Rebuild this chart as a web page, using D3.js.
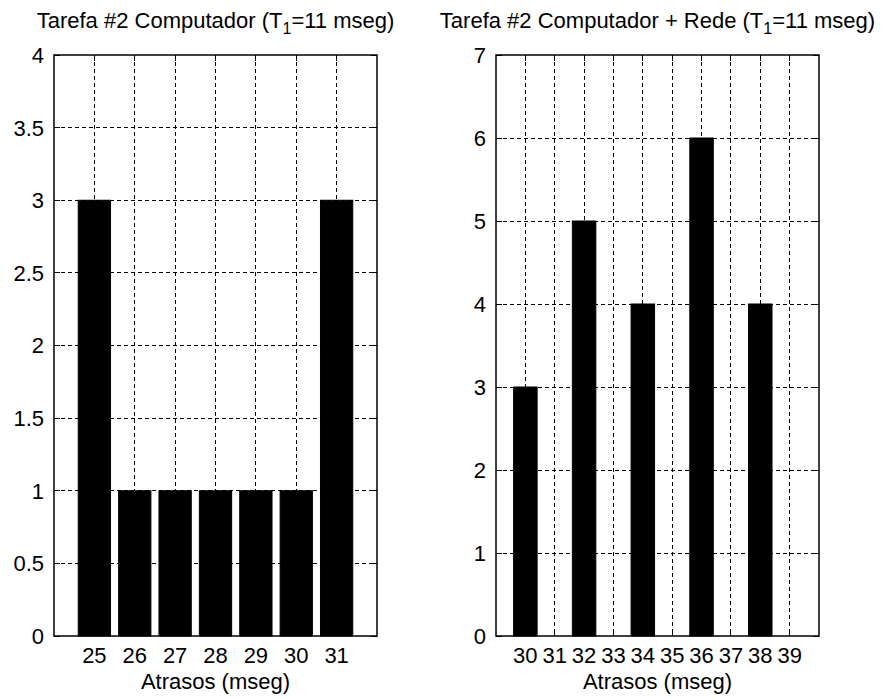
<!DOCTYPE html>
<html>
<head>
<meta charset="utf-8">
<script src="https://cdn.jsdelivr.net/npm/d3@7"></script>
<style>
  body { margin: 0; background: #fff; }
  svg { display: block; font-family: "Liberation Sans", Arial, sans-serif; }
</style>
</head>
<body>
<svg id="chart" width="884" height="699"></svg>
<script>
// Histograms of delays
const delaysComp = [25, 26, 27, 28, 29, 30, 31];
const countsComp = [3, 1, 1, 1, 1, 1, 3];
const yTicksComp = [0, 0.5, 1, 1.5, 2, 2.5, 3, 3.5, 4];

const delaysNet = [30, 31, 32, 33, 34, 35, 36, 37, 38, 39];
const countsNet = [3, 0, 5, 0, 4, 0, 6, 0, 4, 0];
const yTicksNet = [0, 1, 2, 3, 4, 5, 6, 7];

const titleComp = "Tarefa #2 Computador";
const titleNet = "Tarefa #2 Computador + Rede";
const xLabel = "Atrasos (mseg)";

const svg = d3.select("#chart");
const plotTop = 55, plotBottom = 636;
const fontSize = 22;

function drawPanel(opts) {
    const { left, right, xs, ys, xDomain, yDomain, yTicks, title } = opts;

    const x = d3.scaleLinear().domain(xDomain).range([left, right]);
    const y = d3.scaleLinear().domain(yDomain).range([plotBottom, plotTop]);
    const g = svg.append("g");

    // grid (dotted, behind the bars)
    g.append("g")
        .selectAll("line")
        .data(xs)
        .join("line")
        .attr("x1", d => x(d)).attr("x2", d => x(d))
        .attr("y1", plotTop).attr("y2", plotBottom)
        .attr("stroke", "#000")
        .attr("stroke-dasharray", "4,3")
        .attr("shape-rendering", "crispEdges");

    g.append("g")
        .selectAll("line")
        .data(yTicks.slice(1, -1))
        .join("line")
        .attr("x1", left).attr("x2", right)
        .attr("y1", d => y(d)).attr("y2", d => y(d))
        .attr("stroke", "#000")
        .attr("stroke-dasharray", "4,3")
        .attr("shape-rendering", "crispEdges");

    // bars (width 0.8, like MATLAB's bar)
    const bw = 0.8;
    g.append("g")
        .selectAll("rect")
        .data(xs.map((d, i) => ({ x: d, v: ys[i] })).filter(d => d.v > 0))
        .join("rect")
        .attr("x", d => x(d.x - bw / 2))
        .attr("width", d => x(d.x + bw / 2) - x(d.x - bw / 2))
        .attr("y", d => y(d.v))
        .attr("height", d => y(0) - y(d.v))
        .attr("fill", "#000")
        .attr("stroke", "#000")
        .attr("stroke-width", 1);

    // box
    g.append("rect")
        .attr("x", left).attr("y", plotTop)
        .attr("width", right - left).attr("height", plotBottom - plotTop)
        .attr("fill", "none")
        .attr("stroke", "#000")
        .attr("stroke-width", 1.5);

    // inward ticks on all sides
    const tl = 6;
    const ticks = g.append("g").attr("stroke", "#000").attr("shape-rendering", "crispEdges");
    xs.forEach(d => {
        ticks.append("line").attr("x1", x(d)).attr("x2", x(d)).attr("y1", plotBottom).attr("y2", plotBottom - tl);
        ticks.append("line").attr("x1", x(d)).attr("x2", x(d)).attr("y1", plotTop).attr("y2", plotTop + tl);
    });
    yTicks.forEach(d => {
        ticks.append("line").attr("x1", left).attr("x2", left + tl).attr("y1", y(d)).attr("y2", y(d));
        ticks.append("line").attr("x1", right).attr("x2", right - tl).attr("y1", y(d)).attr("y2", y(d));
    });

    // tick labels
    g.append("g")
        .selectAll("text")
        .data(xs)
        .join("text")
        .attr("x", d => x(d))
        .attr("y", 663)
        .attr("text-anchor", "middle")
        .style("font-size", fontSize + "px")
        .text(d => d);

    g.append("g")
        .selectAll("text")
        .data(yTicks)
        .join("text")
        .attr("x", left - 10)
        .attr("y", d => y(d))
        .attr("dy", "0.36em")
        .attr("text-anchor", "end")
        .style("font-size", fontSize + "px")
        .text(d => d3.format("")(d));

    // x label
    g.append("text")
        .attr("x", (left + right) / 2)
        .attr("y", 689)
        .attr("text-anchor", "middle")
        .style("font-size", fontSize + "px")
        .text(xLabel);

    // title with subscript
    const t = g.append("text")
        .attr("x", (left + right) / 2)
        .attr("y", 28)
        .attr("text-anchor", "middle")
        .style("font-size", fontSize + "px");
    t.append("tspan").text(title + " (T");
    t.append("tspan").attr("dy", 6).style("font-size", "16px").text("1");
    t.append("tspan").attr("dy", -6).text("=11 mseg)");
}

drawPanel({
    left: 54, right: 377,
    xs: delaysComp, ys: countsComp,
    xDomain: [24, 32], yDomain: [0, 4], yTicks: yTicksComp,
    title: titleComp
});

drawPanel({
    left: 496, right: 819,
    xs: delaysNet, ys: countsNet,
    xDomain: [29, 40], yDomain: [0, 7], yTicks: yTicksNet,
    title: titleNet
});
</script>
</body>
</html>
